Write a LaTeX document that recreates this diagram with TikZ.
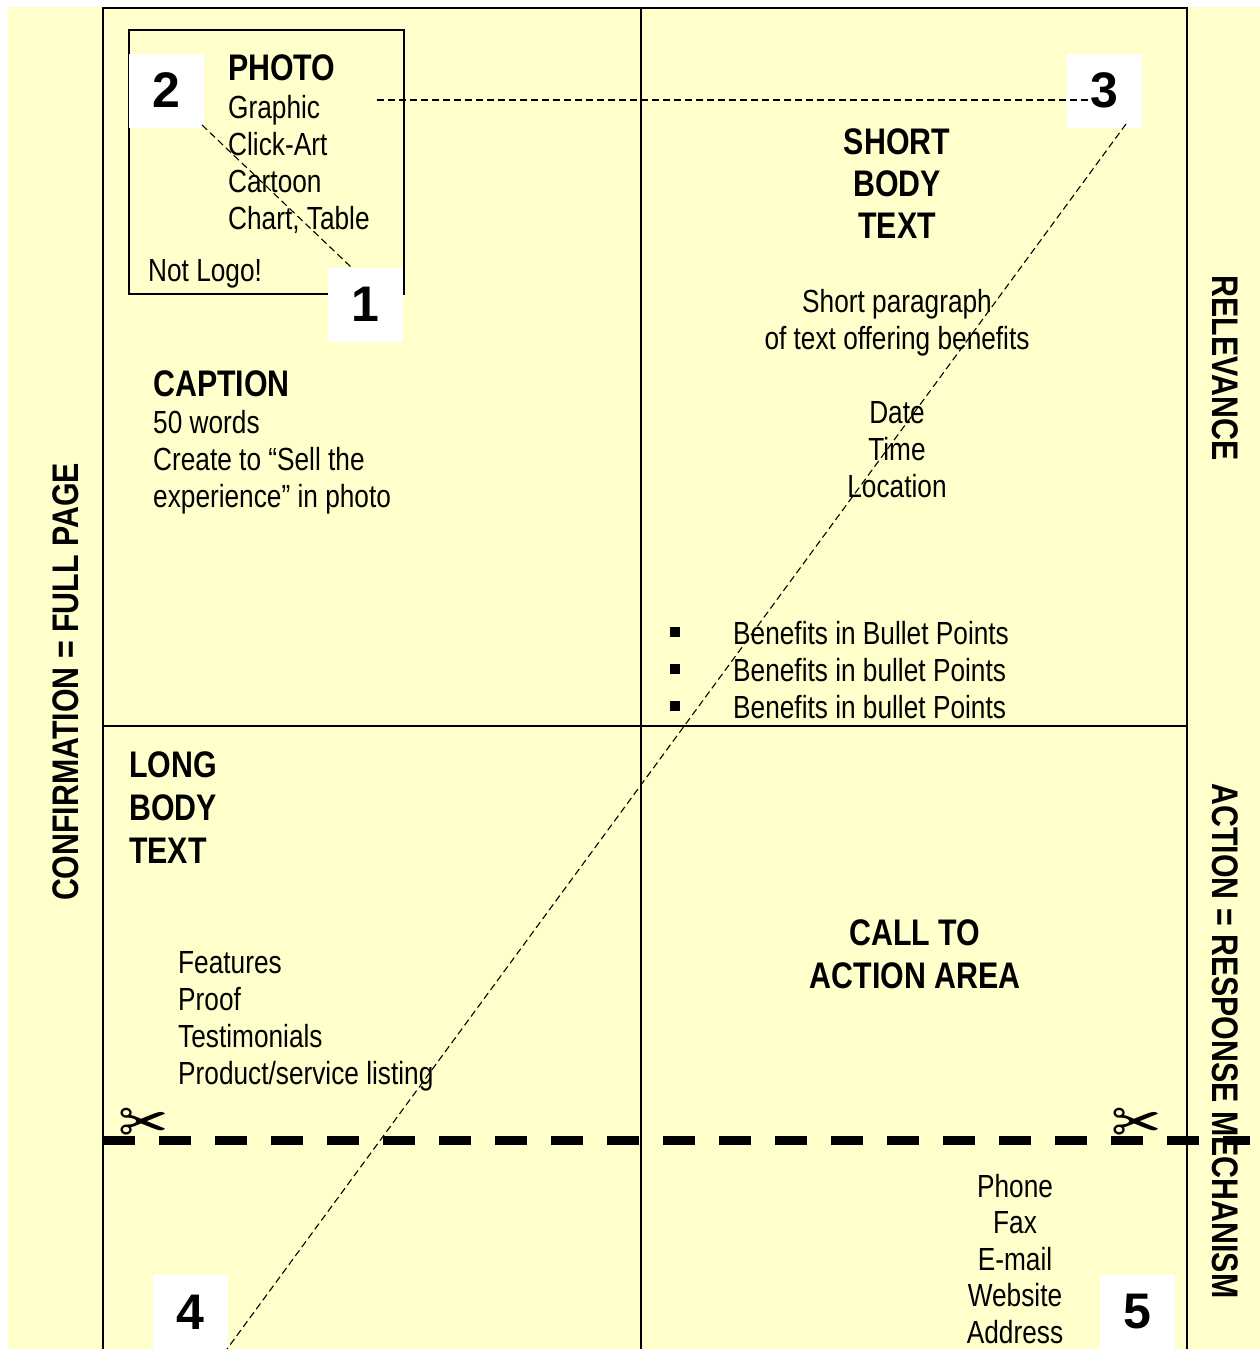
\documentclass[tikz,border=0pt]{standalone}
\usepackage{fontspec}
\setmainfont{Liberation Sans}[FakeStretch=0.82]
\newfontfamily\numfont{Liberation Sans}
\newfontfamily\symfont{DejaVu Sans}
\definecolor{paper}{HTML}{FFFFCC}
\begin{document}
\begin{tikzpicture}[x=1pt,y=-1pt,
  txt/.style={font=\fontsize{32}{37}\selectfont, inner sep=0pt, align=left},
  ctxt/.style={font=\fontsize{32}{37}\selectfont, inner sep=0pt, align=center, anchor=base},
  head/.style={font=\bfseries\fontsize{37}{43}\selectfont, inner sep=0pt, align=left},
  chead/.style={font=\bfseries\fontsize{37}{42}\selectfont, inner sep=0pt, align=center, anchor=base},
  side/.style={font=\bfseries\fontsize{37}{43}\selectfont, inner sep=0pt},
  numbox/.style={fill=white, minimum width=75pt, minimum height=74pt, inner sep=0pt,
    font=\numfont\bfseries\fontsize{50}{50}\selectfont},
  grid/.style={line width=2.5pt},
  thin dash/.style={line width=1.1pt, dash pattern=on 7pt off 4pt},
  cut/.style={line width=9pt, dash pattern=on 32pt off 24pt},
  bulletsq/.style={fill=black, minimum size=10pt, inner sep=0pt},
  scissor/.style={font=\symfont\fontsize{60}{60}\selectfont, inner sep=0pt}
]
\useasboundingbox (0,0) rectangle (1260,1349);
\fill[paper] (8,7) rectangle (1260,1349);

% grid
\coordinate (tl) at (103,8);
\coordinate (tr) at (1187,8);
\coordinate (tm) at (641,8);
\coordinate (bl) at (103,1352);
\coordinate (br) at (1187,1352);
\coordinate (bm) at (641,1352);
\coordinate (ml) at (103,726);
\coordinate (mr) at (1187,726);
\draw[grid] (bl) -- (tl) -- (tr) -- (br);
\draw[grid] (tm) -- (bm);
\draw[grid] (ml) -- (mr);

% photo box
\node[draw=black, line width=1.8pt, minimum width=275pt, minimum height=264pt, inner sep=0pt, anchor=north west] (photo) at (128,29) {};

% cut line
\coordinate (c1) at (103,1140);
\coordinate (c2) at (1250,1140);
\draw[cut] (c1) -- (c2);
\node[scissor] (sc1) at (144,1126) {✂};
\node[scissor] (sc2) at (1137,1126) {✂};

% number boxes
\node[numbox] (n2) at (166,90.5) {2};
\node[numbox] (n1) at (365,304.5) {1};
\node[numbox] (n3) at (1104.5,90.5) {3};
\node[numbox] (n4) at (190.5,1312) {4};
\node[numbox] (n5) at (1137.5,1312) {5};

% thin dashed guide lines
\coordinate (h1) at (377,100);
\coordinate (h2) at (1092,100);
\coordinate (d21a) at (202,125);
\coordinate (d21b) at (352,268);
\coordinate (d34a) at (1126,124);
\coordinate (d34b) at (227,1349);
\draw[thin dash] (h1) -- (h2);
\draw[thin dash] (d21a) -- (d21b);
\draw[thin dash] (d34a) -- (d34b);

% photo texts (base anchor = baseline of last line)
\node[head, anchor=base west] (photoh) at (228,80) {PHOTO};
\node[txt, anchor=base west] (photol) at (228,229) {Graphic\\Click-Art\\Cartoon\\Chart, Table};
\node[txt, anchor=base west] (nologo) at (148,281) {Not Logo!};

% caption
\node[head, anchor=base west] (caph) at (153,396) {CAPTION};
\node[txt, anchor=base west] (capl) at (153,507) {50 words\\Create to “Sell the\\experience” in photo};

% short body text
\node[chead] (shorth) at (897,238) {SHORT\\BODY\\TEXT};
\node[ctxt] (shortp) at (897,349) {Short paragraph\\of text offering benefits};
\node[ctxt] (dtl) at (897,497) {Date\\Time\\Location};

% bullets
\node[bulletsq] (b1) at (675,632) {};
\node[bulletsq] (b2) at (675,669) {};
\node[bulletsq] (b3) at (675,706) {};
\node[txt, anchor=base west] (blist) at (733,718) {Benefits in Bullet Points\\Benefits in bullet Points\\Benefits in bullet Points};

% long body text
\node[head, anchor=base west] (longh) at (129,863) {LONG\\BODY\\TEXT};
\node[txt, anchor=base west] (feat) at (178,1084) {Features\\Proof\\Testimonials\\Product/service listing};

% call to action
\node[chead, font=\bfseries\fontsize{37}{43}\selectfont] (cta) at (915,988) {CALL TO\\ACTION AREA};
\node[ctxt, font=\fontsize{32}{36.5}\selectfont] (contact) at (1015,1343) {Phone\\Fax\\E-mail\\Website\\Address};

% side labels
\node[side, rotate=90] (conf) at (66,682) {CONFIRMATION = FULL PAGE};
\node[side, rotate=-90] (rel) at (1225,368) {RELEVANCE};
\node[side, rotate=-90] (act) at (1225,1041) {ACTION = RESPONSE MECHANISM};
\end{tikzpicture}
\end{document}
